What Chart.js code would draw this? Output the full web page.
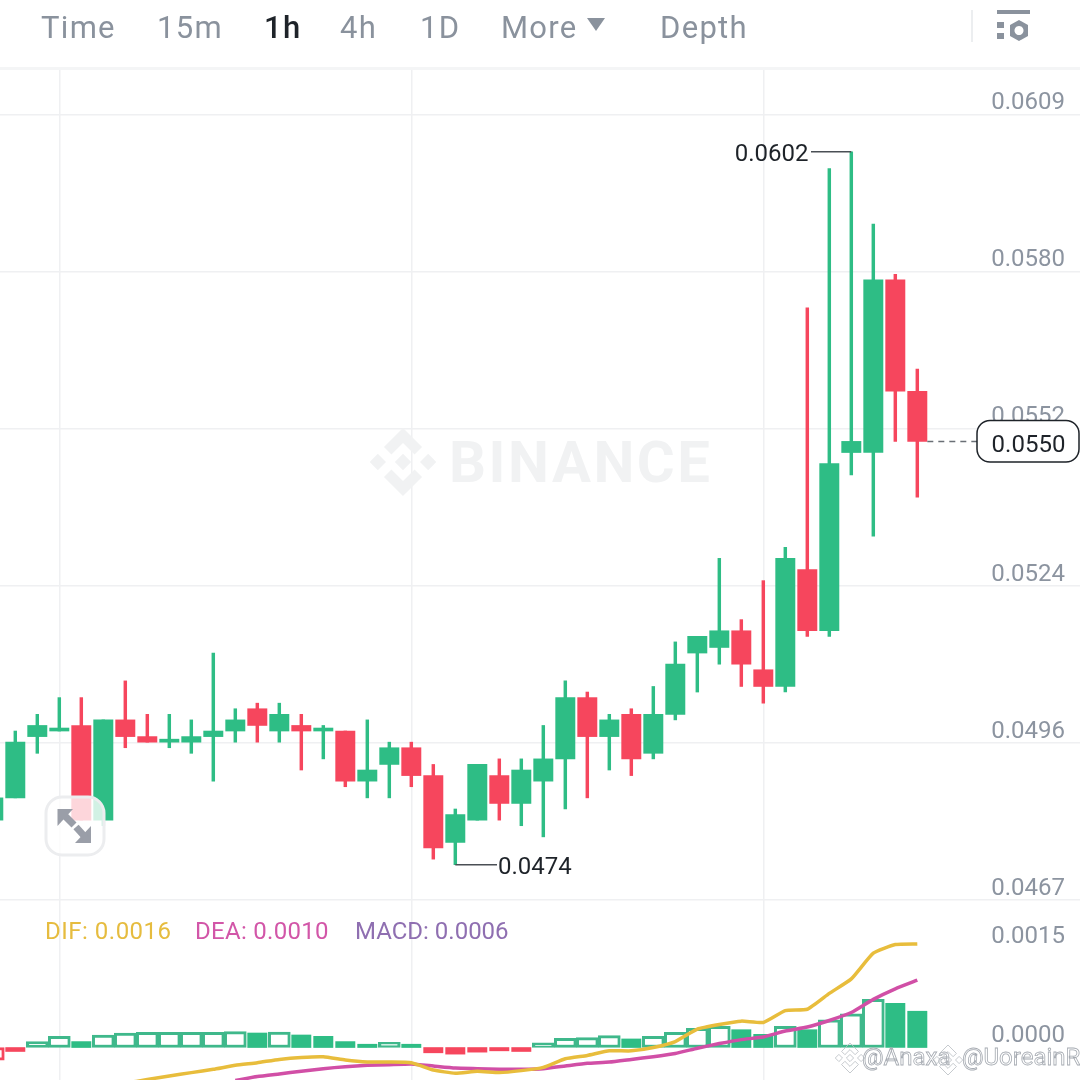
<!DOCTYPE html>
<html>
<head>
<meta charset="utf-8">
<script src="https://cdn.jsdelivr.net/npm/chart.js@4/dist/chart.umd.min.js"></script>
<style>
html,body{margin:0;padding:0;background:#fff;width:1080px;height:1080px;overflow:hidden;font-family:Roboto,sans-serif}
#wrap{position:relative;width:1080px;height:1080px}
canvas{position:absolute;left:0;top:0}
.tab{position:absolute;top:9px;font-size:31px;line-height:38px;color:#8a929d;letter-spacing:1.3px;white-space:nowrap}
.tab.on{color:#1e2329;font-weight:500}
#band{position:absolute;left:0;top:67px;width:1080px;height:3px;background:#f4f5f6}
#div{position:absolute;left:971px;top:10px;width:2px;height:32px;background:#eceef0}
svg{position:absolute;left:0;top:0}
</style>
</head>
<body>
<div id="wrap">
<canvas id="c" width="1080" height="1080"></canvas>
<div id="tabs"></div>
<div id="band"></div><div id="div"></div>
<svg width="1080" height="60" fill="#8a929d">
<polygon points="587,18 605,18 596,31"/>
<rect x="997" y="10" width="33" height="4"/>
<rect x="997" y="22" width="7" height="6"/><rect x="997" y="33" width="7" height="6"/>
<path fill-rule="evenodd" d="M1019 20l9 5v11l-9 5-9-5V25zM1019 26a4.5 4.5 0 1 0 .01 0z"/>
</svg>
</div>
<script>
const tabLabels = ["Time","15m","1h","4h","1D","More","Depth"];
const activeTab = "1h";

const candleIndex = [0,1,2,3,4,5,6,7,8,9,10,11,12,13,14,15,16,17,18,19,20,21,22,23,24,25,26,27,28,29,30,31,32,33,34,35,36,37,38,39,40,41,42];
const opens  = [.0482,.0486,.0497,.0498,.0499,.0482,.0500,.0497,.0496,.0496,.0497,.0498,.0502,.0498,.0499,.0498,.0498,.0489,.0492,.0495,.0490,.0478,.0482,.0490,.0485,.0489,.0493,.0504,.0497,.0501,.0494,.0501,.0512,.0513,.0516,.0509,.0506,.0527,.0516,.0548,.0548,.0579,.0559];
const closes = [.0486,.0496,.0499,.0498,.0482,.0500,.0497,.0496,.0496,.0497,.0498,.0500,.0499,.0501,.0498,.0498,.0489,.0491,.0495,.0490,.0477,.0483,.0492,.0485,.0491,.0493,.0504,.0497,.0500,.0493,.0501,.0510,.0515,.0516,.0510,.0506,.0529,.0516,.0546,.0550,.0579,.0559,.0550];
const highs  = [.0486,.0498,.0501,.0504,.0504,.0500,.0507,.0501,.0501,.0500,.0512,.0502,.0503,.0503,.0501,.0499,.0498,.0500,.0496,.0496,.0492,.0484,.0492,.0493,.0493,.0499,.0507,.0505,.0501,.0502,.0506,.0514,.0515,.0529,.0518,.0525,.0531,.0574,.0599,.0602,.0589,.0580,.0563];
const lows   = [.0482,.0486,.0494,.0498,.0482,.0481,.0495,.0496,.0495,.0494,.0489,.0496,.0496,.0496,.0491,.0493,.0488,.0486,.0486,.0488,.0475,.0474,.0482,.0482,.0481,.0479,.0484,.0486,.0491,.0490,.0493,.0500,.0505,.0510,.0506,.0503,.0505,.0515,.0515,.0544,.0533,.0550,.0540];

const macdBars = [-.00019,-.00006,.00009,.00017,.00009,.00019,.00022,.00023,.00023,.00023,.00023,.00024,.00022,.000235,.00019,.00017,.00009,.00005,.00008,.00005,-.00008,-.0001,-.00007,-.00005,-.00006,.00007,.00014,.00015,.00018,.00013,.00017,.00023,.00029,.00032,.00027,.0002,.00032,.00027,.00042,.00051,.00073,.00067,.00055];
const difLine = [null,null,null,null,null,null,-.00054,-.000485,-.00043,-.00038,-.00033,-.00027,-.00023,-.00018,-.00015,-.00014,-.00019,-.00022,-.00022,-.00023,-.00034,-.00039,-.00036,-.00038,-.00035,-.0003,-.00017,-.00012,-.00005,-.00005,0,.00009,.00028,.00035,.0004,.00038,.00056,.00058,.00082,.00104,.00143,.00156,.00157];
const deaLine = [null,null,null,null,null,null,null,null,null,null,null,-.0005,-.00044,-.0004,-.00036,-.00032,-.00029,-.00027,-.00026,-.00025,-.00028,-.00031,-.00032,-.00033,-.00033,-.00032,-.00028,-.00024,-.00022,-.00018,-.00014,-.00009,-.00001,.00006,.00012,.00016,.00025,.00031,.00041,.00053,.00073,.00089,.00102];

const priceTicks = [.0608635,.0580435,.0552235,.0524035,.0495835,.0467635];
const priceTickLabels = ["0.0609","0.0580","0.0552","0.0524","0.0496","0.0467"];
const macdTicks = [.0015,0];
const macdTickLabels = ["0.0015","0.0000"];
const gridCandles = [3,19,35];
const highLabel = "0.0602";
const lowLabel = "0.0474";
const lastLabel = "0.0550";
const legendItems = [["DIF: 0.0016","#e6bc3f"],["DEA: 0.0010","#d256a8"],["MACD: 0.0006","#8f6fb1"]];

const GREEN="#2ebd85", RED="#f6465d", GRID="#eff0f2", TICK="#8c94a0", DARK="#1e2329";
const tabX = {"Time":41,"15m":157,"1h":264,"4h":340,"1D":420,"More":501,"Depth":660};
const tabsEl=document.getElementById('tabs');
tabLabels.forEach(t=>{const s=document.createElement('span');s.className='tab'+(t===activeTab?' on':'');s.textContent=t;s.style.left=tabX[t]+'px';tabsEl.appendChild(s);});

const isUp = i => closes[i]>=opens[i];
const isHollow = i => { const v=macdBars[i]; if(i===0) return true; if(v<0) return false; return v>=macdBars[i-1]; };
const pts = (fn)=>candleIndex.map(i=>({x:i,y:fn(i)}));

function logo(ctx,cx,cy,s,stroke){
  const d=(x,y,r)=>{ctx.beginPath();ctx.moveTo(cx+x,cy+y-r);ctx.lineTo(cx+x+r,cy+y);ctx.lineTo(cx+x,cy+y+r);ctx.lineTo(cx+x-r,cy+y);ctx.closePath();stroke?ctx.stroke():ctx.fill();};
  const chev=(sign)=>{ctx.beginPath();
    ctx.moveTo(cx,cy+sign*s);ctx.lineTo(cx+.56*s,cy+sign*.44*s);ctx.lineTo(cx+.34*s,cy+sign*.22*s);ctx.lineTo(cx,cy+sign*.56*s);
    ctx.lineTo(cx-.34*s,cy+sign*.22*s);ctx.lineTo(cx-.56*s,cy+sign*.44*s);ctx.closePath();stroke?ctx.stroke():ctx.fill();};
  d(0,0,.24*s);d(-.74*s,0,.24*s);d(.74*s,0,.24*s);chev(-1);chev(1);
}

const overlay={
  id:'overlay',
  beforeDatasetsDraw(ch){
    const c=ch.ctx;c.save();
    c.fillStyle="#f1f2f3";logo(c,403,462,34,false);
    c.font="bold 58px Roboto";c.textBaseline="middle";c.textAlign="left";c.letterSpacing="2.5px";
    c.fillText("BINANCE",449,467);c.letterSpacing="0px";
    c.restore();
  },
  afterDatasetsDraw(ch){
    const c=ch.ctx,y=ch.scales.y,x=ch.scales.x;c.save();
    c.textBaseline="middle";c.font="24px Roboto";c.fillStyle=DARK;c.strokeStyle="#4a4f55";c.lineWidth=1.5;
    // extremes
    const hi=highs.indexOf(Math.max(...highs)),lo=lows.indexOf(Math.min(...lows));
    const hx=x.getPixelForValue(hi),hy=y.getPixelForValue(highs[hi]);
    c.beginPath();c.moveTo(hx,hy);c.lineTo(811,hy);c.stroke();
    c.textAlign="right";c.fillText(highLabel,808.5,hy+3);
    const lx=x.getPixelForValue(lo),ly=y.getPixelForValue(lows[lo]);
    c.beginPath();c.moveTo(lx,ly);c.lineTo(497,ly);c.stroke();
    c.textAlign="left";c.fillText(lowLabel,498,ly+3);
    // last price
    const last=closes[closes.length-1],py=y.getPixelForValue(last),px=x.getPixelForValue(candleIndex.length-1);
    c.setLineDash([6,5]);c.strokeStyle="#6a6f76";c.beginPath();c.moveTo(px+10,py);c.lineTo(977,py);c.stroke();c.setLineDash([]);
    c.beginPath();c.roundRect(977,420.5,102,41.5,13);c.fillStyle="#fff";c.fill();c.strokeStyle=DARK;c.lineWidth=1.5;c.stroke();
    c.fillStyle=DARK;c.textAlign="center";c.fillText(lastLabel,1028.5,446);
    // legend
    c.textAlign="left";c.font="24px Roboto";
    const lxp=[45,195,355],lsp=["0.5px","0.3px","0px"];
    legendItems.forEach((it,i)=>{c.letterSpacing=lsp[i];c.fillStyle=it[1];c.fillText(it[0],lxp[i],933);});
    c.letterSpacing="0px";
    // expand button
    c.beginPath();c.roundRect(46,797,58,58,16);c.fillStyle="rgba(255,255,255,.78)";c.fill();c.strokeStyle="#ecedef";c.lineWidth=3;c.stroke();
    c.fillStyle="#9a9ea8";c.strokeStyle="#9a9ea8";c.lineWidth=7;
    c.beginPath();c.moveTo(57.5,809);c.lineTo(73,809);c.lineTo(57.5,826);c.closePath();c.fill();
    c.beginPath();c.moveTo(62,813);c.lineTo(74,825);c.stroke();
    c.beginPath();c.moveTo(91,843);c.lineTo(75,843);c.lineTo(91,826);c.closePath();c.fill();
    c.beginPath();c.moveTo(86,838);c.lineTo(76,827);c.stroke();
    // corner watermark
    c.font="24px Roboto";c.lineWidth=.8;c.strokeStyle="#a6abb2";c.fillStyle="rgba(255,255,255,.85)";c.textAlign="left";
    [["@Anaxa",862,1059],["@UoreainR",962,1059]].forEach(t=>{c.fillText(t[0],t[1],t[2]);c.strokeText(t[0],t[1],t[2]);});
    c.strokeStyle="#b8bcc2";logo(c,850,1058,15,true);logo(c,948,1060,15,true);
    c.restore();
  }
};

new Chart(document.getElementById('c'),{
  type:'bar',
  plugins:[overlay],
  data:{datasets:[
    {type:'line',label:'DIF',yAxisID:'m',order:0,data:pts(i=>difLine[i]),borderColor:"#e8bd3c",borderWidth:3.5,pointRadius:0,tension:.15,spanGaps:false},
    {type:'line',label:'DEA',yAxisID:'m',order:0,data:pts(i=>deaLine[i]),borderColor:"#d14fa6",borderWidth:3.5,pointRadius:0,tension:.15,spanGaps:false},
    {label:'MACD rising',yAxisID:'m',order:1,grouped:false,barThickness:22,
      data:pts(i=>isHollow(i)?macdBars[i]:null),
      backgroundColor:"#fff",borderSkipped:false,
      borderColor:candleIndex.map(i=>macdBars[i]<0?RED:"#3fb88b"),borderWidth:3},
    {label:'MACD falling',yAxisID:'m',order:1,grouped:false,barThickness:19.3,
      data:pts(i=>isHollow(i)?null:macdBars[i]),
      backgroundColor:candleIndex.map(i=>macdBars[i]<0?RED:GREEN)},
    {label:'Body',yAxisID:'y',order:2,grouped:false,barThickness:19.3,minBarLength:3,
      data:pts(i=>[opens[i],closes[i]]),
      backgroundColor:candleIndex.map(i=>isUp(i)?GREEN:RED)},
    {label:'Wick',yAxisID:'y',order:3,grouped:false,barThickness:2.8,
      data:pts(i=>[lows[i],highs[i]]),
      backgroundColor:candleIndex.map(i=>isUp(i)?GREEN:RED)}
  ]},
  options:{
    responsive:false,animation:false,
    layout:{padding:{top:69,left:0,right:0,bottom:0}},
    plugins:{legend:{display:false},tooltip:{enabled:false},title:{display:false}},
    scales:{
      x:{type:'linear',offset:false,min:0.3045,max:49.395,
        afterBuildTicks(s){s.ticks=gridCandles.map(v=>({value:v}));},
        grid:{offset:false,color:GRID,lineWidth:1.5,drawTicks:false},border:{display:false},
        ticks:{display:false}},
      y:{position:'right',min:.0435347,max:.0616857,
        afterFit(s){s.width=0;},
        afterBuildTicks(s){s.ticks=priceTicks.map(v=>({value:v}));},
        grid:{color:GRID,lineWidth:1.5,drawTicks:false},border:{display:false},
        ticks:{mirror:true,padding:-15,labelOffset:-11.5,color:TICK,font:{family:'Roboto',size:24},
          callback:(v,i)=>priceTickLabels[i]}},
      m:{position:'right',min:-.000492,max:.014826,
        afterFit(s){s.width=0;},
        afterBuildTicks(s){s.ticks=macdTicks.map(v=>({value:v}));},
        grid:{display:false,drawTicks:false},border:{display:false},
        ticks:{mirror:true,padding:-15,labelOffset:-11.5,color:TICK,font:{family:'Roboto',size:24},
          callback:(v,i)=>macdTickLabels[i]}}
    }
  }
});
</script>
</body>
</html>
